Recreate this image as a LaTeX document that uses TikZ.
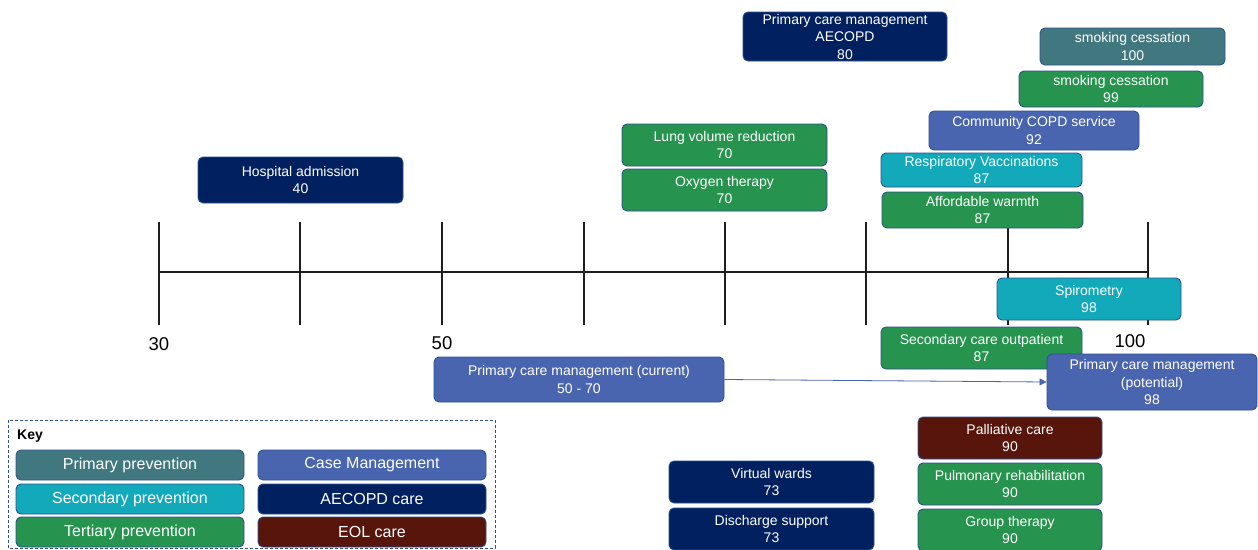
\documentclass[tikz,border=0pt]{standalone}
\usepackage{fontspec}
\setmainfont{Liberation Sans}
\usetikzlibrary{arrows.meta}
\definecolor{cprim}{RGB}{65,120,128}
\definecolor{csec}{RGB}{18,169,187}
\definecolor{cter}{RGB}{38,148,78}
\definecolor{ccase}{RGB}{74,101,175}
\definecolor{caecopd}{RGB}{0,32,96}
\definecolor{ceol}{RGB}{88,21,12}
\definecolor{cedge}{RGB}{47,82,143}
\definecolor{caxis}{RGB}{30,30,30}
\tikzset{
  box/.style={draw=cedge, line width=0.9pt, rounded corners=5pt, fill=#1,
    text=white, align=center, inner sep=0pt,
    font=\fontsize{14}{17.5}\selectfont},
  keybox/.style={box=#1, minimum width=228, minimum height=30,
    font=\fontsize{16}{19}\selectfont},
  axisline/.style={draw=caxis, line width=1.6pt},
  ticklab/.style={font=\fontsize{18.5}{20}\selectfont, text=black},
  flow/.style={draw=ccase, line width=0.8pt, -{Triangle[length=7pt,width=7pt]}}
}
\begin{document}
\begin{tikzpicture}[x=1pt,y=-1pt]
\useasboundingbox (0,0) rectangle (1258,549);
\fill[white] (0,0) rectangle (1258,549);
% axis
\coordinate (a0) at (159,272);
\coordinate (a1) at (1148,272);
\draw[axisline] (a0) -- (a1);
\foreach \x/\n in {159/t30,300/t40,442/t50,584/t60,725/t70,866/t80,1008/t90,1148/t100}{
  \coordinate (\n top) at (\x,222);
  \coordinate (\n bot) at (\x,325);
  \draw[axisline] (\n top) -- (\n bot);
}
\node[ticklab] (l30) at (159,344) {30};
\node[ticklab] (l50) at (442,343) {50};
\node[ticklab] (l100) at (1130,341) {100};
% boxes
\node[box=caecopd, minimum width=205, minimum height=46] (hosp) at (300.5,180) {Hospital admission\\40};
\node[box=caecopd, minimum width=204, minimum height=49] (aec) at (845,36.5) {Primary care management\\AECOPD\\80};
\node[box=cprim, minimum width=185, minimum height=37] (smk100) at (1132.5,46.5) {smoking cessation\\100};
\node[box=cter, minimum width=184, minimum height=36] (smk99) at (1111,89) {smoking cessation\\99};
\node[box=ccase, minimum width=210, minimum height=39] (comm) at (1034,130.5) {Community COPD service\\92};
\node[box=csec, minimum width=201, minimum height=34] (resp) at (981.5,170) {Respiratory Vaccinations\\87};
\node[box=cter, minimum width=201, minimum height=36] (warm) at (982.5,210) {Affordable warmth\\87};
\node[box=cter, minimum width=205, minimum height=42] (lung) at (724.5,145) {Lung volume reduction\\70};
\node[box=cter, minimum width=205, minimum height=42] (oxy) at (724.5,190) {Oxygen therapy\\70};
\node[box=csec, minimum width=184, minimum height=42] (spiro) at (1089,299) {Spirometry\\98};
\node[box=cter, minimum width=201, minimum height=42] (sec) at (981.5,348) {Secondary care outpatient\\87};
\node[box=ccase, minimum width=290, minimum height=45] (cur) at (579,379.5) {Primary care management (current)\\50 - 70};
\node[box=ccase, minimum width=210, minimum height=56] (pot) at (1152,382) {Primary care management\\(potential)\\98};
\draw[flow] (cur.east) -- (pot.west);
\node[box=ceol, minimum width=184, minimum height=42] (pall) at (1010,438) {Palliative care\\90};
\node[box=cter, minimum width=184, minimum height=42] (pulm) at (1010,484) {Pulmonary rehabilitation\\90};
\node[box=cter, minimum width=184, minimum height=42] (group) at (1010,530) {Group therapy\\90};
\node[box=caecopd, minimum width=205, minimum height=42] (vw) at (771.5,482) {Virtual wards\\73};
\node[box=caecopd, minimum width=205, minimum height=42] (dis) at (771.5,529) {Discharge support\\73};
% key
\draw[draw=cedge, densely dashed, line width=0.7pt] (8,420) rectangle (495,548);
\node[anchor=west, font=\bfseries\fontsize{14}{16}\selectfont, inner sep=0pt] (keylab) at (17,436) {Key};
\node[keybox=cprim] (k1) at (130,465) {Primary prevention};
\node[keybox=ccase] (k2) at (372,465) {Case Management};
\node[keybox=csec] (k3) at (130,499) {Secondary prevention};
\node[keybox=caecopd] (k4) at (372,499) {AECOPD care};
\node[keybox=cter] (k5) at (130,532) {Tertiary prevention};
\node[keybox=ceol] (k6) at (372,532) {EOL care};
\end{tikzpicture}
\end{document}
